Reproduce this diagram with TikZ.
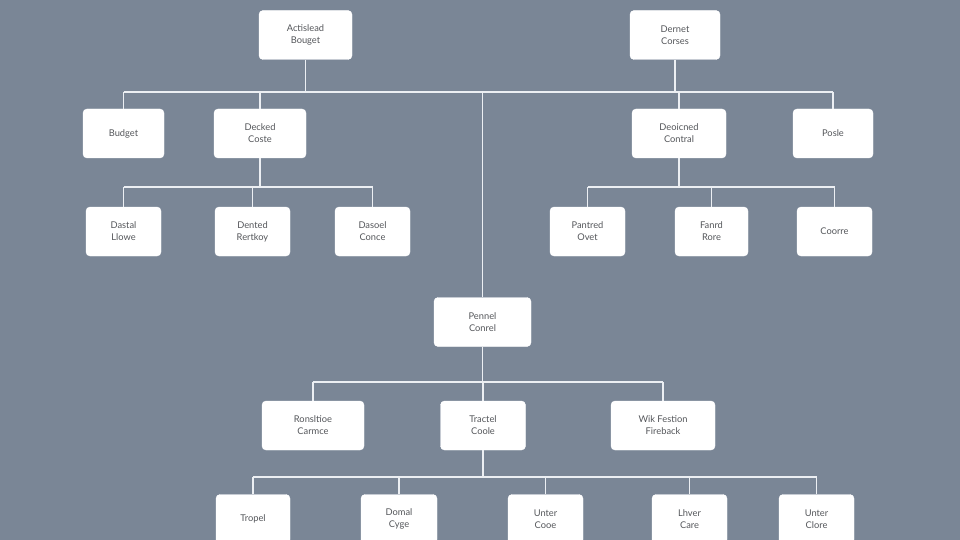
\documentclass[tikz,border=0pt]{standalone}
\usepackage{fontspec}
\setmainfont{Lato}
\usepackage{xcolor}
\usepackage{tikz}
\usetikzlibrary{calc}
\definecolor{slate}{RGB}{122,134,150}
\definecolor{wire}{RGB}{236,239,243}
\definecolor{ink}{RGB}{84,86,90}

\begin{document}
\begin{tikzpicture}[x=1pt,y=-1pt,
    card/.style={draw=white,fill=white,rounded corners=4pt,inner sep=0pt,
                 minimum height=49pt,align=center,text=ink,
                 font=\fontsize{9.3}{12}\selectfont},
    link/.style={wire,line width=1.6pt}]
  \fill[slate] (0,0) rectangle (960,540);
  \useasboundingbox (0,0) rectangle (960,540);
  % rails of the forks
  \coordinate (r1) at (0,92);
  \coordinate (r2) at (0,187);
  \coordinate (r4) at (0,382);
  \coordinate (r5) at (0,477);
  % boxes
  \foreach \n/\x/\y/\w/\lab in {a1/305.5/35/93/{Actislead\\Bouget},
                                a2/675/35/90/{Dernet\\Corses},
                                b1/123.5/133.5/81/{Budget},
                                b2/260/133.5/92/{Decked\\Coste},
                                b3/679/133.5/94/{Deoicned\\Contral},
                                b4/833/133.5/80/{Posle},
                                c1/123.5/231.5/75/{Dastal\\Llowe},
                                c2/252.5/231.5/75/{Dented\\Rertkoy},
                                c3/372.5/231.5/75/{Dasoel\\Conce},
                                c4/587.5/231.5/75/{Pantred\\Ovet},
                                c5/711.5/231.5/73/{Fanrd\\Rore},
                                c6/834.5/231.5/75/{Coorre},
                                p/482.5/322/97/{Pennel\\Conrel},
                                d1/313/425.5/102/{Ronsltioe\\Carmce},
                                d2/483/425.5/85/{Tractel\\Coole},
                                d3/663/425.5/104/{Wik Festion\\Fireback},
                                e1/253/519/74/{Tropel},
                                e2/399/519/76/{Domal\\Cyge},
                                e3/545.5/519/75/{Unter\\Cooe},
                                e4/689.5/519/75/{Lhver\\Care},
                                e5/816.5/519/75/{Unter\\Clore}}{
     \node[card,minimum width=\w pt] (\n) at (\x,\y) {\lab};
  }
  % top fork
  \draw[link] (b1.north |- r1) -- (b4.north |- r1);
  \foreach \n in {a1,a2}
     \draw[link] (\n.south) -- (\n.south |- r1);
  \foreach \n in {b1,b2,b3,b4,p}
     \draw[link] (\n.north) -- (\n.north |- r1);
  % left and right forks
  \draw[link] (c1.north |- r2) -- (c3.north |- r2);
  \draw[link] (c4.north |- r2) -- (c6.north |- r2);
  \draw[link] (b2.south) -- (b2.south |- r2);
  \draw[link] (b3.south) -- (b3.south |- r2);
  \foreach \n in {c1,c2,c3,c4,c5,c6}
     \draw[link] (\n.north) -- (\n.north |- r2);
  % lower forks
  \draw[link] (d1.north |- r4) -- (d3.north |- r4);
  \draw[link] (p.south) -- (p.south |- r4);
  \foreach \n in {d1,d2,d3}
     \draw[link] (\n.north) -- (\n.north |- r4);
  \draw[link] (e1.north |- r5) -- (e5.north |- r5);
  \draw[link] (d2.south) -- (d2.south |- r5);
  \foreach \n in {e1,e2,e3,e4,e5}
     \draw[link] (\n.north) -- (\n.north |- r5);
\end{tikzpicture}
\end{document}
